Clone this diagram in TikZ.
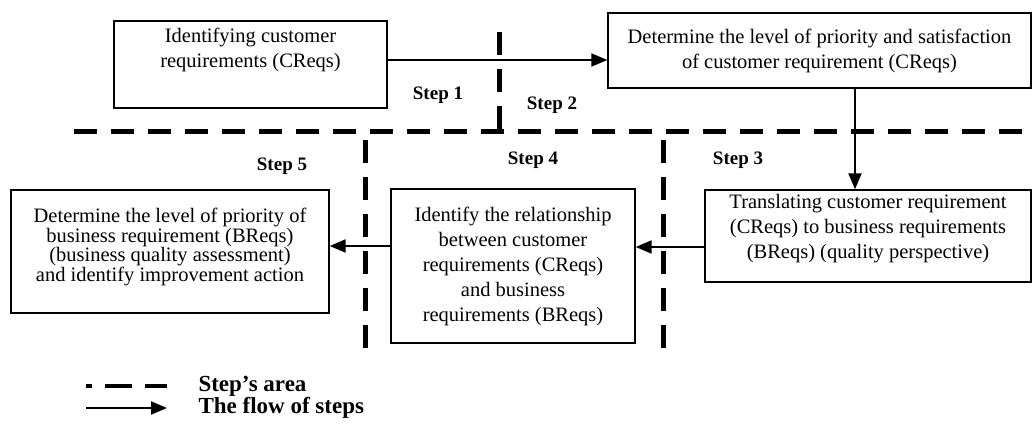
\documentclass[tikz,border=0pt]{standalone}
\usepackage{fontspec}
\setmainfont{Liberation Serif}
\usetikzlibrary{arrows.meta,positioning,calc}

\begin{document}
\begin{tikzpicture}[x=1pt,y=-1pt,
   box/.style={draw, line width=1.4pt, align=center, inner sep=0pt,
      font=\fontsize{20.5}{25}\selectfont},
   steplbl/.style={font=\fontsize{19}{23}\selectfont\bfseries},
   legend/.style={font=\fontsize{23}{23}\selectfont\bfseries, anchor=west},
   area/.style={line width=5pt, dash pattern=on 23pt off 14pt},
   flow/.style={line width=2.2pt, -{Triangle[length=16pt,width=13pt]}}]
\useasboundingbox (0,0) rectangle (1033,425);
% boxes
\node[box, minimum width=273pt, minimum height=87pt] (ident) at (250.5,64.5)
   {Identifying customer\\requirements (CReqs)\\[8pt]};
\node[box, minimum width=423pt, minimum height=75pt] (prio) at (819.5,50.5)
   {Determine the level of priority and satisfaction\\of customer requirement (CReqs)};
\node[box, minimum width=326pt, minimum height=92pt] (trans) at (868,236)
   {Translating customer requirement\\(CReqs) to business requirements\\(BReqs) (quality perspective)\\[-6pt]};
\node[box, minimum width=244pt, minimum height=154pt] (rel) at (513,266)
   {Identify the relationship\\between customer\\requirements (CReqs)\\and business\\requirements (BReqs)};
\node[box, minimum width=318pt, minimum height=123pt,
   font=\fontsize{20.5}{19.5}\selectfont] (bprio) at (170,251.5)
   {Determine the level of priority of\\business requirement (BReqs)\\(business quality assessment)\\and identify improvement action\\[-6pt]};
% step labels
\node[steplbl] (s1) at (438,95) {Step 1};
\node[steplbl] (s2) at (552,105) {Step 2};
\node[steplbl] (s3) at (738,160) {Step 3};
\node[steplbl] (s4) at (533,160) {Step 4};
\node[steplbl] (s5) at (282,166) {Step 5};
% step areas
\draw[area] (74,132) -- (1033,132);
\draw[area] (499,32) -- (499,134.5);
\draw[area] (365,140) -- (365,348);
\draw[area] (663,140) -- (663,348);
% flow
\draw[flow] ([yshift=4.5pt]ident.east) coordinate (f1) -- (f1 -| prio.west);
\draw[flow] ([xshift=35.5pt]prio.south) coordinate (f2) -- (f2 |- trans.north);
\draw[flow] ([yshift=-11pt]trans.west) coordinate (f3) -- (f3 -| rel.east);
\draw[flow] ([yshift=20pt]rel.west) coordinate (f4) -- (f4 -| bprio.east);
% legend
\coordinate (la) at (86,386);
\coordinate (lb) at (167,386);
\coordinate (lc) at (86,408);
\coordinate (ld) at (167,408);
\draw[area, line width=4pt, dash pattern=on 27pt off 13pt, dash phase=21pt] (la) -- (lb);
\draw[flow] (lc) -- (ld);
\node[legend] (lgarea) at (195,386) {Step’s area};
\node[legend] (lgflow) at (195,408) {The flow of steps};
\end{tikzpicture}
\end{document}
